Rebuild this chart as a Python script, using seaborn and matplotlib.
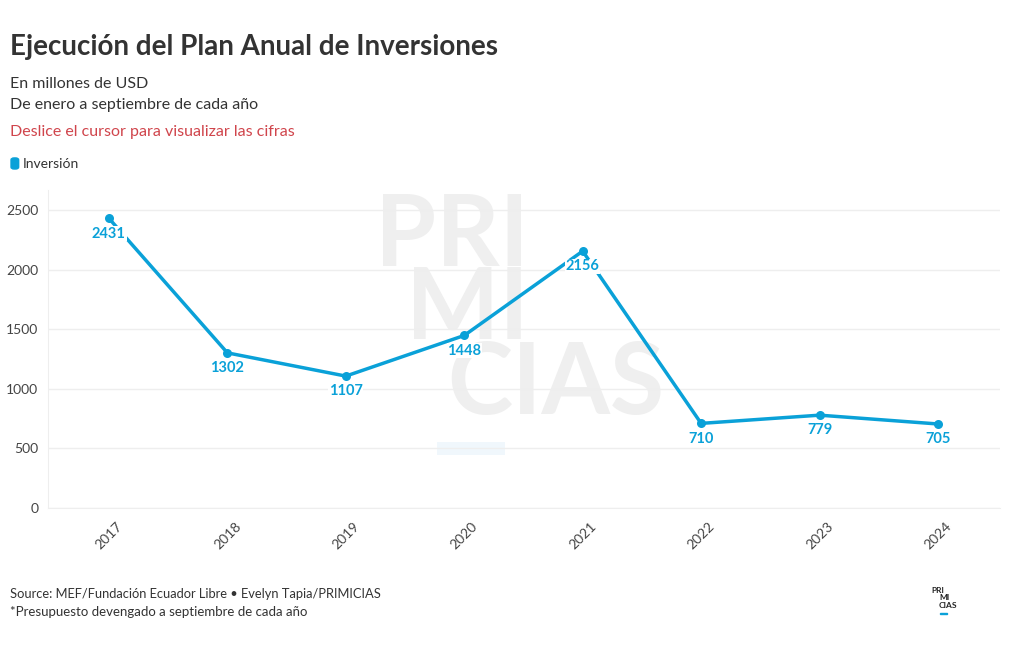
import matplotlib
matplotlib.use('Agg')
import matplotlib.pyplot as plt
import seaborn as sns
import pandas as pd
from matplotlib.patches import FancyBboxPatch, Rectangle

# datos
anios = ['2017', '2018', '2019', '2020', '2021', '2022', '2023', '2024']
inversion = [2431, 1302, 1107, 1448, 2156, 710, 779, 705]
yticks = [0, 500, 1000, 1500, 2000, 2500]

df = pd.DataFrame({'anio': anios, 'inversion': inversion})
df['pos'] = range(len(df))

sns.set_style('white')
plt.rcParams['font.family'] = ['Lato', 'DejaVu Sans']

azul = '#0aa1d8'
gris = '#333333'

fig = plt.figure(figsize=(10.2, 6.5), dpi=100)
ax = fig.add_axes([0.047, 0.2185, 0.933, 0.489])

# marca de agua
marca = dict(transform=ax.transAxes, fontsize=71, fontweight='bold', color='#efefef',
             va='center', zorder=0)
ax.text(0.505, 0.850, 'PRI', ha='right', **marca)
ax.text(0.505, 0.620, 'MI', ha='right', **marca)
ax.text(0.420, 0.386, 'CIAS', ha='left', **marca)
ax.add_patch(Rectangle((0.409, 0.167), 0.071, 0.041, transform=ax.transAxes,
                       color='#f0f7fc', zorder=0, lw=0))

sns.lineplot(data=df, x='pos', y='inversion', ax=ax, color=azul, linewidth=2.5,
             marker='o', markersize=6.5, markeredgewidth=0, zorder=3)

for x, v in zip(df['pos'], df['inversion']):
    ax.annotate(str(v), (x, v), xytext=(0, -11), textcoords='offset points',
                ha='center', va='center', fontsize=10.5, fontweight='bold', color=azul,
                bbox=dict(facecolor='white', edgecolor='none', pad=0.5), zorder=4)

ax.set_xlim(-0.515, 7.52)
ax.set_ylim(0, 2668)
ax.set_xticks(df['pos'])
ax.set_xticklabels(anios, rotation=45, ha='center', fontsize=10, color='#444444')
ax.set_yticks(yticks)
ax.set_yticklabels([str(t) for t in yticks], fontsize=10, color='#444444')
ax.tick_params(axis='x', length=5, color='#e6e6e6', pad=4)
ax.tick_params(axis='y', length=0, pad=7)
ax.grid(axis='y', color='#eeeeee', linewidth=1)
ax.set_axisbelow(True)
for s in ['top', 'right']:
    ax.spines[s].set_visible(False)
for s in ['left', 'bottom']:
    ax.spines[s].set_color('#eeeeee')
ax.set_xlabel('')
ax.set_ylabel('')

# textos
fig.text(0.0098, 0.928, 'Ejecución del Plan Anual de Inversiones', fontsize=20,
         fontweight='bold', color=gris, va='center')
fig.text(0.0098, 0.870, 'En millones de USD', fontsize=11.5, color=gris, va='center')
fig.text(0.0098, 0.839, 'De enero a septiembre de cada año', fontsize=11.5, color=gris, va='center')
fig.text(0.0098, 0.797, 'Deslice el cursor para visualizar las cifras', fontsize=11.5,
         color='#d0454c', va='center')
fig.patches.append(FancyBboxPatch((0.0108, 0.740), 0.0075, 0.017,
                                  boxstyle='round,pad=0,rounding_size=0.003',
                                  transform=fig.transFigure, color=azul))
fig.text(0.0225, 0.748, 'Inversión', fontsize=10, color=gris, va='center')

fig.text(0.0098, 0.086, 'Source: MEF/Fundación Ecuador Libre • Evelyn Tapia/PRIMICIAS',
         fontsize=9.3, color=gris, va='center')
fig.text(0.0098, 0.058, '*Presupuesto devengado a septiembre de cada año',
         fontsize=9.5, color=gris, va='center')

# logo
logo = dict(fontsize=6, fontweight='bold', color='#222222', va='center')
fig.text(0.9135, 0.092, 'PRI', **logo)
fig.text(0.9205, 0.080, 'MI', **logo)
fig.text(0.9205, 0.068, 'CIAS', **logo)
fig.patches.append(Rectangle((0.9215, 0.055), 0.007, 0.002, transform=fig.transFigure,
                             color=azul))

fig.savefig('out.png', dpi=100)
